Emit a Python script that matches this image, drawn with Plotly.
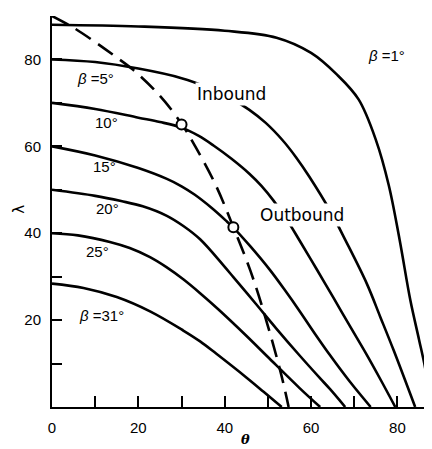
import plotly.graph_objects as go

# ---- data ----
b1_theta = [0, 20, 40, 52, 60, 66, 71, 75, 78, 80.5, 83, 85, 86.5, 87.7]
b1_lambda = [88, 87.6, 86.6, 85, 81.5, 76.5, 70.8, 61.5, 51, 38.5, 24.5, 15.5, 8.5, 0]

b5_theta = [0, 10, 20, 30, 36, 41, 45.7, 49.5, 53.4, 56.5, 59.6, 64.5, 68, 72.9, 76, 79.1, 84.1]
b5_lambda = [80, 79.4, 77.9, 75.7, 73.6, 71.3, 68.4, 65.4, 61.4, 57.5, 53, 45, 38.3, 28.4, 20.8, 13.1, 0]

b10_theta = [0, 10, 20, 25, 30, 34, 37.4, 41.5, 45.7, 48.5, 51.3, 54.4, 57.4, 61.3, 65.2, 69, 72.9, 76.2, 79.5]
b10_lambda = [70, 68.6, 66.6, 65.6, 64.3, 62.4, 60.2, 57.2, 53.7, 50.9, 47.5, 43.1, 38.2, 31.7, 25.1, 18.6, 12, 6.1, 0]

b15_theta = [0, 10, 20, 26.6, 30, 33, 37, 40.5, 42, 46, 50.5, 54, 57.4, 61, 64.4, 69, 73.8]
b15_lambda = [60, 57.9, 55, 52.5, 50.8, 48.9, 45.8, 42.7, 41.3, 36.9, 31.5, 26.8, 22, 16.7, 11.9, 5.8, 0]

b20_theta = [0, 10, 16, 21, 26.6, 30.5, 34.3, 39.7, 42, 47, 52, 57.4, 62, 64.4, 67.9]
b20_lambda = [50, 48.6, 47.4, 46.2, 44, 41.6, 38.6, 32.6, 29.9, 24, 18, 11.8, 6.7, 4.1, 0]

b25_theta = [0, 6, 13.4, 18, 22.7, 26.5, 30.4, 34.3, 38.5, 45, 50, 57.4, 62.1]
b25_lambda = [40, 39.5, 38, 36.6, 34.5, 32.2, 29.4, 26.2, 22.5, 16.4, 11.5, 4.3, 0]

b31_theta = [0, 7.3, 15, 22.7, 30.4, 34.3, 38, 45, 49, 53.2]
b31_lambda = [28.4, 27.4, 25.3, 22, 17.6, 15.1, 12.3, 6.8, 3.5, 0]

dash_theta = [0, 5, 10, 14.5, 18.8, 25, 30, 33.5, 38, 42, 45.9, 49, 53, 54.8]
dash_lambda = [90, 87.3, 84, 80.8, 77.6, 71.6, 65.2, 59.4, 50.9, 41.4, 31.5, 22, 7.8, 0]

circle_theta = [30, 42]
circle_lambda = [65, 41.4]

x_tickvals = [0, 10, 20, 30, 40, 50, 60, 70, 80]
x_ticktext = ["0", "", "20", "", "40", "", "60", "", "80"]
y_tickvals = [10, 20, 30, 40, 50, 60, 70, 80, 90]
y_ticktext = ["", "20", "", "40", "", "60", "", "80", ""]

curve_labels = ["<i>β</i> =1°", "<i>β</i> =5°", "10°", "15°", "20°", "25°", "<i>β</i> =31°"]
path_labels = ["Inbound", "Outbound"]

# ---- figure ----
fig = go.Figure()
solid = dict(color="black", width=2.6, shape="spline", smoothing=1.0)
for th, la in [(b1_theta, b1_lambda), (b5_theta, b5_lambda), (b10_theta, b10_lambda),
               (b15_theta, b15_lambda), (b20_theta, b20_lambda), (b25_theta, b25_lambda),
               (b31_theta, b31_lambda)]:
    fig.add_trace(go.Scatter(x=th, y=la, mode="lines", line=solid, hoverinfo="skip"))

fig.add_trace(go.Scatter(x=dash_theta, y=dash_lambda, mode="lines",
                         line=dict(color="black", width=2.6, dash="18px,9px", shape="spline", smoothing=1.0),
                         hoverinfo="skip"))

lab_font = dict(family="Liberation Sans, Arial, sans-serif", size=15, color="black")
path_font = dict(family="DejaVu Sans, sans-serif", size=17, color="black")
label_pos = [(77.4, 80.9), (10, 75.5), (12.6, 65.6), (12.2, 55.3), (12.9, 45.6), (10.5, 35.7), (11.5, 21.1)]
for txt, (x, y) in zip(curve_labels, label_pos):
    fig.add_annotation(x=x, y=y, text=txt, showarrow=False, font=lab_font,
                       xanchor="center", yanchor="middle")
for txt, (x, y) in zip(path_labels, [(41.6, 72), (58, 44.1)]):
    fig.add_annotation(x=x, y=y, text=txt, showarrow=False, font=path_font,
                       bgcolor="white", borderpad=1, xanchor="center", yanchor="middle")

fig.add_trace(go.Scatter(x=circle_theta, y=circle_lambda, mode="markers",
                         marker=dict(symbol="circle", size=10, color="white",
                                     line=dict(color="black", width=2)),
                         hoverinfo="skip"))

# axis titles (kept fully inside the figure)
fig.add_annotation(xref="paper", yref="paper", x=-0.089, y=0.505, text="λ", textangle=-90,
                   xanchor="center", yanchor="middle", borderpad=0,
                   showarrow=False, font=dict(family="DejaVu Sans, sans-serif", size=15, color="black"))
fig.add_annotation(xref="paper", yref="paper", x=0.508, y=-0.083, text="<b><i>θ</i></b>",
                   xanchor="center", yanchor="middle", borderpad=0,
                   showarrow=False, font=dict(family="DejaVu Serif, serif", size=13, color="black"))

tick_font = dict(family="Liberation Sans, Arial, sans-serif", size=15, color="black")
fig.update_xaxes(range=[0, 88], showgrid=False, zeroline=False, showline=True, linecolor="black",
                 linewidth=2, ticks="inside", ticklen=11, tickwidth=1.5, tickcolor="black",
                 tickvals=x_tickvals, ticktext=x_ticktext, tickfont=tick_font, ticklabelstandoff=6)
fig.update_yaxes(range=[0, 90], showgrid=False, zeroline=False, showline=True, linecolor="black",
                 linewidth=2, ticks="inside", ticklen=10, tickwidth=1.5, tickcolor="black",
                 tickvals=y_tickvals, ticktext=y_ticktext, tickfont=tick_font, ticklabelstandoff=6)

# page body has an 8px margin, so the figure is sized to fit inside the window
fig.update_layout(width=424, height=441, margin=dict(l=44, r=0, t=8, b=42),
                  plot_bgcolor="white", paper_bgcolor="white", showlegend=False)

fig.write_html("out.html")
